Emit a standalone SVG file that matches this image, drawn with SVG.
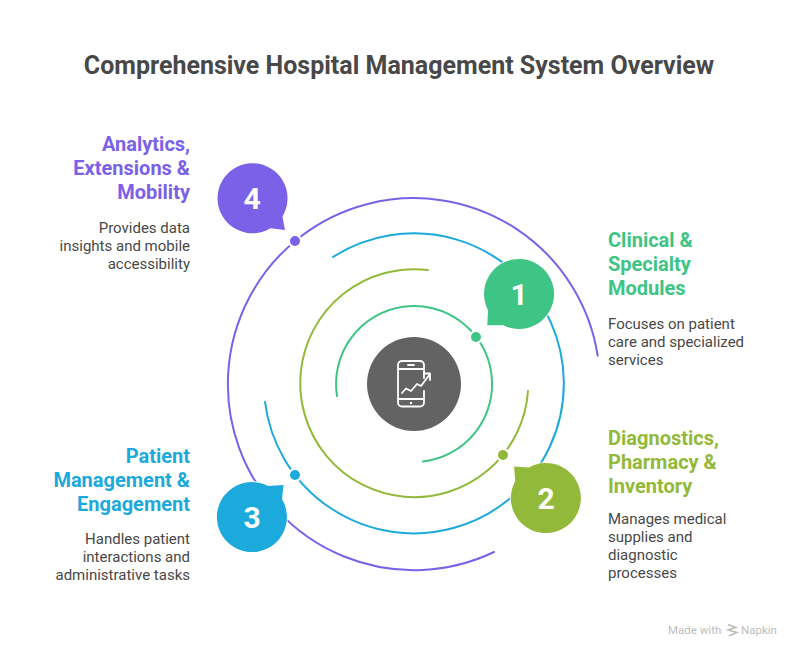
<svg xmlns="http://www.w3.org/2000/svg" width="798" height="654" viewBox="0 0 798 654">
<style>
text{font-family:Roboto,"Liberation Sans",sans-serif}
.t{font-size:25px;font-weight:700;fill:#484848;text-anchor:middle}
.h{font-size:20px;font-weight:700}
.b{font-size:15px;fill:#484848}
.e{text-anchor:end}
.n{font-size:30px;font-weight:700;fill:#fff;text-anchor:middle}
.arc{fill:none;stroke-width:2;stroke-linecap:round}
.dot{stroke:#fff;stroke-width:2}
.bub{stroke:#fff;stroke-width:2;stroke-linejoin:round;paint-order:stroke}
.ic{fill:none;stroke:#fff;stroke-width:1.8;stroke-linecap:round;stroke-linejoin:round}
.g{fill:#3EC484}.o{fill:#93B93A}.c{fill:#1CA9DB}.p{fill:#7B61E8}
.wm{font-size:11.5px;fill:#bdbdbd}
</style>
<rect width="798" height="654" fill="#fff"/>
<text class="t" x="399" y="74">Comprehensive Hospital Management System Overview</text>
<g id="connectors">
<path class="arc" stroke="#3EC484" d="M337 396A78 78 0 1 1 423 461.5"/>
<path class="arc" stroke="#93B93A" d="M428 270A114 114 0 1 0 528 391"/>
<path class="arc" stroke="#1CA9DB" d="M333 257A150 150 0 1 1 265 402"/>
<path class="arc" stroke="#7B61E8" d="M494 552A186 186 0 1 1 597.700 355.700"/>
<circle class="dot g" cx="476" cy="337" r="6"/>
<circle class="dot o" cx="503" cy="455" r="6"/>
<circle class="dot c" cx="295" cy="475" r="6"/>
<circle class="dot p" cx="295" cy="241" r="6"/>
</g>
<g id="center">
<circle cx="414" cy="384" r="47" fill="#636363"/>
<path class="ic" d="M424 378V365a4 4 0 0 0-4-4H402a4 4 0 0 0-4 4V402.500a4 4 0 0 0 4 4H420a4 4 0 0 0 4-4V391M398 369H424M398 399H424M408 365H414"/>
<path class="ic" d="M402 393L406 388.500L411 391L417 384L421 386L430 374M424 373.500H430V380"/>
<circle cx="411" cy="403" r="1.200" fill="#fff"/>
</g>
<g id="node-1">
<path class="bub g" d="M488 310.200A35 35 0 1 1 503.400 325.300L487.300 325.300Z"/>
<text class="n" x="519" y="305">1</text>
<text class="h" x="608" y="247" fill="#3EC484">Clinical &amp;</text>
<text class="h" x="608" y="271" fill="#3EC484">Specialty</text>
<text class="h" x="608" y="295" fill="#3EC484">Modules</text>
<text class="b" x="608" y="329">Focuses on patient</text>
<text class="b" x="608" y="347">care and specialized</text>
<text class="b" x="608" y="365">services</text>
</g>
<g id="node-2">
<path class="bub o" d="M529 467.400A35 35 0 1 1 515.300 481L514 466.500Z"/>
<text class="n" x="546" y="509">2</text>
<text class="h" x="608" y="445" fill="#93B93A">Diagnostics,</text>
<text class="h" x="608" y="469" fill="#93B93A">Pharmacy &amp;</text>
<text class="h" x="608" y="493" fill="#93B93A">Inventory</text>
<text class="b" x="608" y="524">Manages medical</text>
<text class="b" x="608" y="542">supplies and</text>
<text class="b" x="608" y="560">diagnostic</text>
<text class="b" x="608" y="578">processes</text>
</g>
<g id="node-3">
<path class="bub c" d="M268 486A35 35 0 1 0 282 499.200L283.500 485Z"/>
<text class="n" x="252" y="528">3</text>
<text class="h e" x="190" y="463" fill="#1CA9DB">Patient</text>
<text class="h e" x="190" y="487" fill="#1CA9DB">Management &amp;</text>
<text class="h e" x="190" y="511" fill="#1CA9DB">Engagement</text>
<text class="b e" x="190" y="544">Handles patient</text>
<text class="b e" x="190" y="562">interactions and</text>
<text class="b e" x="190" y="580">administrative tasks</text>
</g>
<g id="node-4">
<path class="bub p" d="M282.400 216.500A35 35 0 1 0 270.500 228.300L285 230Z"/>
<text class="n" x="252" y="209">4</text>
<text class="h e" x="190" y="151" fill="#7B61E8">Analytics,</text>
<text class="h e" x="190" y="175" fill="#7B61E8">Extensions &amp;</text>
<text class="h e" x="190" y="199" fill="#7B61E8">Mobility</text>
<text class="b e" x="190" y="233">Provides data</text>
<text class="b e" x="190" y="251">insights and mobile</text>
<text class="b e" x="190" y="269">accessibility</text>
</g>
<g id="watermark">
<text class="wm" x="668" y="634">Made with</text>
<path d="M728 624.500L736 627.500L728 630L737 632.500L729 636" fill="none" stroke="#bdbdbd" stroke-width="1.500"/>
<text class="wm" x="741" y="634">Napkin</text>
</g>
</svg>
